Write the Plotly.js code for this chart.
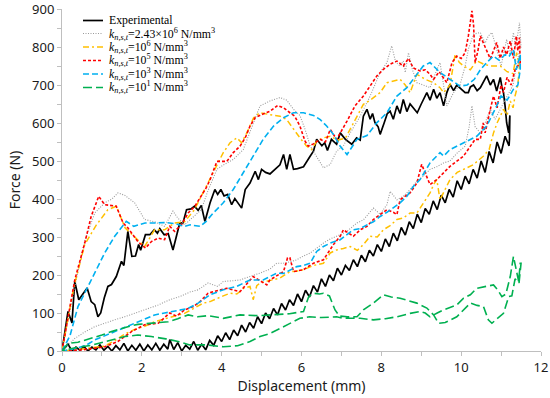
<!DOCTYPE html>
<html><head><meta charset="utf-8">
<script src="https://cdn.plot.ly/plotly-3.0.1.min.js"></script>
<style>html,body{margin:0;padding:0;background:#fff}#chart{width:550px;height:398px}</style>
</head><body><div id="chart"></div>
<script>
// ---------- Experimental ----------
const expUpX = [0,0.15,0.25,0.32,0.42,0.53,0.63,0.73,0.82,0.9,0.97,1.06,1.15,1.24,1.36,1.49,1.55,1.65,1.75,1.84,1.92,1.97,2.09,2.2,2.31,2.39,2.45,2.56,2.66,2.78,2.87,2.95,3.03,3.12,3.23,3.32,3.41,3.49,3.58,3.71,3.83,3.9,3.98,4.06,4.15,4.25,4.33,4.5,4.59,4.71,4.84,4.92,5.0,5.1,5.21,5.38,5.46,5.55,5.63,5.71,5.8,5.9,6.05,6.22,6.3,6.38,6.51,6.58,6.65,6.75,6.88,6.97,7.1,7.26,7.38,7.47,7.55,7.64,7.72,7.78,7.84,7.92,7.97,8.07,8.15,8.22,8.3,8.39,8.47,8.55,8.64,8.72,8.8,8.9,9.0,9.14,9.22,9.31,9.39,9.47,9.56,9.64,9.72,9.81,9.89,10.0,10.1,10.18,10.23,10.31,10.4,10.48,10.56,10.64,10.73,10.81,10.89,10.98,11.02,11.06,11.1,11.14,11.19,11.22,11.21];
const expUpY = [0,104,74,183,135,150,166,130,122,90,100,140,170,175,196,236,225,315,249,250,280,265,306,306,319,310,322,306,309,266,300,337,337,372,374,381,370,383,341,390,425,412,425,408,412,385,401,376,425,442,473,451,478,470,466,481,490,517,478,517,478,480,485,513,526,557,540,548,528,557,544,574,557,544,561,555,618,636,610,625,601,590,570,600,625,631,610,645,625,662,630,650,640,627,650,680,660,689,665,680,645,680,702,685,700,690,680,680,695,700,685,693,710,724,700,715,684,720,695,680,645,600,574,620,557];
const expDnX = [0,0.05,0.15,0.25,0.35,0.45,0.55,0.65,0.75,0.85,0.95,1.05,1.15,1.25,1.35,1.45,1.55,1.65,1.75,1.85,1.95,2.05,2.15,2.25,2.35,2.45,2.55,2.65,2.7,2.8,2.9,3.0,3.1,3.2,3.3,3.4,3.5,3.6,3.7,3.8,3.9,4.0,4.1,4.2,4.3,4.4,4.5,4.6,4.7,4.8,4.9,5.0,5.1,5.2,5.3,5.4,5.5,5.6,5.7,5.8,5.9,6.0,6.1,6.2,6.3,6.4,6.5,6.6,6.7,6.8,6.9,7.0,7.1,7.2,7.3,7.4,7.5,7.6,7.7,7.8,7.9,8.0,8.1,8.2,8.3,8.4,8.5,8.6,8.7,8.8,8.9,9.0,9.1,9.2,9.3,9.4,9.5,9.6,9.7,9.8,9.9,10.0,10.1,10.2,10.3,10.4,10.5,10.6,10.7,10.8,10.9,11.0,11.1,11.2];
const expDnY = [0,5,18,0,10,2,12,0,10,3,16,2,12,0,14,3,20,0,15,2,18,0,16,3,20,2,18,5,30,4,22,0,15,5,25,2,18,3,28,15,40,25,48,30,55,40,68,50,75,60,90,72,100,85,112,95,125,108,135,120,150,130,160,142,172,155,190,170,200,185,218,200,225,212,240,222,252,235,265,250,280,262,295,275,310,290,325,305,340,322,360,338,375,360,395,372,410,390,425,405,448,425,460,440,478,455,500,470,525,495,550,520,565,540];

// ---------- k = 2.43e6 (gray dotted) ----------
const k243UpX = [0,0.32,0.57,0.82,1.07,1.25,1.4,1.57,1.82,2.07,2.32,2.57,2.78,2.9,3.07,3.25,3.49,3.65,3.88,4.05,4.29,4.54,4.8,4.96,5.21,5.46,5.63,5.8,5.96,6.09,6.22,6.38,6.55,6.72,6.88,7.05,7.22,7.47,7.72,7.97,8.14,8.26,8.36,8.47,8.55,8.6,8.68,8.78,8.89,9.05,9.22,9.39,9.47,9.64,9.81,9.97,10.1,10.18,10.31,10.48,10.6,10.68,10.77,10.9,11.0,11.08,11.14,11.22,11.31,11.36,11.4,11.46,11.5];
const k243UpY = [0,170,290,363,390,400,416,410,390,346,340,328,368,350,332,350,372,420,478,490,504,530,601,645,658,667,660,636,620,583,539,513,482,491,526,540,574,618,671,733,759,803,760,750,763,733,785,740,706,700,693,740,759,645,680,700,750,794,834,838,810,829,838,790,750,790,820,780,838,800,820,864,800];
const k243DnX = [0,0.1,0.32,0.57,0.82,1.07,1.32,1.57,1.82,2.07,2.41,2.7,2.95,3.2,3.41,3.66,3.9,4.04,4.29,4.46,4.7,4.96,5.2,5.38,5.55,5.72,5.88,6.05,6.22,6.38,6.55,6.72,6.97,7.14,7.39,7.55,7.8,7.97,8.14,8.22,8.39,8.55,8.72,8.89,9.05,9.22,9.39,9.56,9.72,9.89,10.1,10.2,10.27,10.35,10.48,10.6,10.73,10.85,10.98,11.1,11.19,11.3,11.4,11.48];
const k243DnY = [0,9,33,50,64,73,82,90,99,108,121,135,143,155,161,179,170,183,185,187,195,205,215,231,231,235,240,250,258,270,284,295,306,315,337,345,376,360,385,420,398,407,425,447,460,478,485,495,500,520,539,590,645,590,574,600,636,610,636,660,680,700,760,800];

// ---------- k = 1e6 (yellow dash-dot) ----------
const k6UpX = [0,0.3,0.57,0.85,1.15,1.36,1.58,1.81,2.07,2.32,2.57,2.82,3.07,3.32,3.55,3.71,3.88,4.04,4.21,4.38,4.5,4.63,4.8,4.96,5.21,5.46,5.63,5.8,5.96,6.13,6.25,6.38,6.55,6.72,6.9,7.1,7.3,7.55,7.72,7.97,8.14,8.3,8.47,8.6,8.72,8.89,9.1,9.31,9.47,9.56,9.72,9.85,9.95,10.06,10.23,10.39,10.56,10.73,10.98,11.15,11.3,11.39,11.46];
const k6UpY = [0,170,280,330,372,381,324,302,275,319,319,337,340,372,420,451,486,522,548,561,548,574,614,627,622,618,609,583,561,539,530,552,561,565,555,560,600,649,660,680,706,710,715,700,680,728,715,706,693,680,700,781,760,750,740,764,755,750,750,735,730,785,750];
const k6DnX = [0,0.5,1.07,1.33,1.58,1.82,2.07,2.32,2.57,2.83,3.07,3.21,3.38,3.54,3.71,3.88,4.04,4.21,4.38,4.55,4.71,4.79,4.88,4.96,5.2,5.46,5.71,5.88,6.05,6.3,6.55,6.72,6.88,7.05,7.22,7.4,7.55,7.72,7.9,8.05,8.22,8.39,8.55,8.72,8.89,9.05,9.22,9.32,9.39,9.47,9.72,9.9,10.06,10.3,10.56,10.7,10.81,10.9,11.06,11.15,11.23,11.3,11.35,11.42,11.46];
const k6DnY = [0,5,13,28,45,57,65,77,84,92,99,108,117,126,130,137,145,152,150,165,170,135,172,179,185,192,209,210,214,225,231,258,266,270,275,265,280,302,300,319,330,346,350,363,363,390,416,440,451,398,451,470,478,490,513,530,574,600,636,620,658,640,671,700,750];

// ---------- k = 1e5 (red short dash) ----------
const k5UpX = [0,0.32,0.57,0.73,0.92,1.07,1.36,1.53,1.65,1.9,2.09,2.24,2.41,2.57,2.7,2.82,2.99,3.16,3.33,3.49,3.61,3.71,3.88,4.13,4.29,4.46,4.59,4.71,4.84,5.0,5.21,5.4,5.55,5.71,5.83,5.96,6.09,6.17,6.3,6.47,6.6,6.72,6.88,7.14,7.34,7.55,7.72,7.89,8.05,8.22,8.39,8.55,8.68,8.8,8.97,9.1,9.22,9.31,9.45,9.64,9.77,9.89,10.0,10.1,10.18,10.27,10.31,10.35,10.42,10.48,10.6,10.73,10.81,10.89,10.98,11.06,11.14,11.23,11.31,11.38,11.42,11.46,11.48];
const k5UpY = [0,187,284,354,407,385,381,337,324,288,271,288,297,293,328,315,332,363,381,407,429,451,499,499,522,539,561,592,614,622,631,646,640,627,618,592,552,539,545,557,550,583,557,605,645,671,697,724,741,755,763,750,770,745,737,740,728,715,735,706,759,776,770,785,829,895,860,759,790,829,800,769,790,812,770,800,780,816,770,829,790,825,759];
const k5DnX = [0,0.5,1.07,1.4,1.74,2.07,2.41,2.7,2.87,3.07,3.29,3.46,3.66,3.79,4.13,4.46,4.79,5.13,5.21,5.4,5.55,5.65,5.71,5.8,6.05,6.3,6.55,6.8,6.97,7.05,7.3,7.47,7.64,7.8,7.97,8.14,8.3,8.39,8.47,8.72,8.89,9.01,9.22,9.39,9.72,10.06,10.23,10.35,10.48,10.55,10.6,10.7,10.73,10.81,10.9,11.0,11.06,11.15,11.25,11.35,11.48];
const k5DnY = [0,3,11,25,51,69,73,100,92,108,117,130,152,156,165,156,196,174,187,200,209,245,245,209,214,231,240,280,302,319,302,319,328,346,359,372,365,359,398,416,442,491,438,451,486,513,539,557,557,600,574,620,636,671,640,700,680,720,700,740,759];

// ---------- k = 1e3 (blue dash) ----------
const k3UpX = [0,0.2,0.4,0.73,1.07,1.32,1.61,1.8,2.08,2.32,2.6,2.85,3.07,3.21,3.46,3.6,3.79,4.04,4.29,4.54,4.8,5.04,5.3,5.55,5.8,6.05,6.3,6.47,6.63,6.8,6.97,7.14,7.39,7.64,7.89,8.14,8.39,8.64,8.89,9.05,9.22,9.47,9.72,9.97,10.15,10.33,10.48,10.64,10.81,10.95,11.1,11.2,11.31,11.38,11.48];
const k3UpY = [0,40,117,187,258,302,341,328,337,337,338,335,328,332,328,340,363,390,425,469,513,557,592,614,627,627,620,609,592,570,539,517,557,567,601,627,671,693,728,750,759,733,715,697,700,715,740,759,776,765,780,775,794,740,780];
const k3DnX = [0,0.35,0.6,0.82,1.07,1.32,1.57,1.82,2.07,2.32,2.57,2.82,3.16,3.41,3.54,3.71,4.04,4.38,4.71,5.04,5.38,5.55,5.88,6.05,6.22,6.38,6.55,6.72,6.97,7.14,7.3,7.47,7.64,7.8,7.97,8.14,8.3,8.47,8.64,8.8,8.97,9.22,9.47,9.56,9.72,9.89,10.06,10.23,10.39,10.64,10.89,11.0,11.15,11.31,11.42,11.48];
const k3DnY = [0,7,15,29,40,51,62,73,84,95,100,104,112,126,135,148,161,170,187,187,205,204,222,225,231,262,275,284,293,306,319,322,332,340,354,365,376,390,407,433,451,495,522,513,530,539,548,557,565,592,645,671,660,689,700,740];

// ---------- k = 1e1 (green long dash) ----------
const k1UpX = [0,0.15,0.4,0.73,1.0,1.24,1.45,1.65,1.9,2.16,2.4,2.66,2.9,3.16,3.4,3.66,4.04,4.46,4.9,5.3,5.7,6.05,6.18,6.3,6.45,6.55,6.7,6.84,6.95,7.15,7.39,7.55,7.8,8.05,8.25,8.47,8.68,8.89,9.14,9.31,9.43,9.6,9.89,10.06,10.23,10.4,10.56,10.68,10.77,10.9,11.06,11.19,11.27,11.35,11.45,11.5];
const k1UpY = [0,20,23,33,42,51,58,64,70,73,75,77,85,95,90,93,86,95,93,95,98,104,143,152,150,152,145,108,92,90,90,108,126,148,142,139,132,126,113,95,73,75,90,108,126,120,117,82,73,85,99,143,145,190,179,231];
const k1DnX = [0,0.3,0.73,1.2,1.57,1.9,2.24,2.6,2.91,3.2,3.63,4.04,4.4,4.71,4.96,5.21,5.46,5.7,5.96,6.2,6.5,6.88,7.05,7.47,7.8,8.1,8.39,8.72,8.97,9.1,9.22,9.4,9.56,9.72,9.89,10.06,10.23,10.39,10.56,10.7,10.81,10.92,11.02,11.12,11.23,11.31,11.38,11.44,11.48];
const k1DnY = [0,8,15,28,38,42,38,32,25,16,16,11,14,25,38,46,60,72,86,90,88,90,86,86,82,85,90,99,104,100,90,100,108,115,121,139,148,165,170,172,174,160,143,150,196,249,215,183,231];

const seriesNames = [
  'Experimental',
  '<i>k</i><sub><i>n,s,t</i></sub>=2.43×10<sup>6</sup> N/mm<sup>3</sup>',
  '<i>k</i><sub><i>n,s,t</i></sub>=10<sup>6</sup> N/mm<sup>3</sup>',
  '<i>k</i><sub><i>n,s,t</i></sub>=10<sup>5</sup> N/mm<sup>3</sup>',
  '<i>k</i><sub><i>n,s,t</i></sub>=10<sup>3</sup> N/mm<sup>3</sup>',
  '<i>k</i><sub><i>n,s,t</i></sub>=10<sup>1</sup> N/mm<sup>3</sup>'
];
const xTickVals = [0,2,4,6,8,10,12];
const yTickVals = [0,100,200,300,400,500,600,700,800,900];

const styles = [
  {color:'#000000', width:1.7, dash:'solid'},
  {color:'#9a9a9a', width:1.1, dash:'1px,1.5px'},
  {color:'#FFC000', width:1.5, dash:'6px,3px,2px,3px'},
  {color:'#FF0000', width:1.6, dash:'3px,2px'},
  {color:'#00B0F0', width:1.6, dash:'6px,3px'},
  {color:'#00B050', width:1.6, dash:'9px,4px'}
];
function loop(ux, uy, dx, dy) {
  return { x: ux.concat(dx.slice().reverse()), y: uy.concat(dy.slice().reverse()) };
}
const data = [
  [expUpX, expUpY, expDnX, expDnY],
  [k243UpX, k243UpY, k243DnX, k243DnY],
  [k6UpX, k6UpY, k6DnX, k6DnY],
  [k5UpX, k5UpY, k5DnX, k5DnY],
  [k3UpX, k3UpY, k3DnX, k3DnY],
  [k1UpX, k1UpY, k1DnX, k1DnY]
].map((s, i) => {
  const l = loop(s[0], s[1], s[2], s[3]);
  return { type:'scatter', mode:'lines', x:l.x, y:l.y, name:seriesNames[i], line:styles[i], showlegend:false };
});

// Compact legend (drawn in paper coordinates)
const W = 550, H = 398, mL = 62, mR = 9, mT = 9, mB = 47;
const pw = W - mL - mR, ph = H - mT - mB;
const px2x = p => (p - mL) / pw;
const py2y = p => (H - mB - p) / ph;
const rowY = [20.5, 33.5, 47, 60.5, 74, 87.5];
const shapes = [], annotations = [];
seriesNames.forEach((nm, i) => {
  shapes.push({type:'line', xref:'paper', yref:'paper', x0:px2x(83), x1:px2x(103), y0:py2y(rowY[i]), y1:py2y(rowY[i]),
    line:styles[i]});
  annotations.push({xref:'paper', yref:'paper', x:px2x(107), y:py2y(rowY[i]), xanchor:'left', yanchor:'middle',
    text:nm, showarrow:false, font:{family:'Liberation Serif, DejaVu Serif, serif', size:11.8, color:'#000'}});
});

const axisFont = {family:'Noto Sans, Open Sans, sans-serif', size:13, color:'#1a1a1a'};
const layout = {
  width:W, height:H,
  margin:{l:mL, r:mR, t:mT, b:mB},
  paper_bgcolor:'#fff', plot_bgcolor:'#fff',
  showlegend:false,
  shapes:shapes, annotations:annotations,
  xaxis:{range:[0,12], tickvals:xTickVals, ticktext:xTickVals.map(String),
    showgrid:false, zeroline:false, showline:true, linecolor:'#bfbfbf', linewidth:1,
    ticks:'outside', ticklen:4, tickcolor:'#bfbfbf', ticklabeloverflow:'allow',
    minor:{dtick:1, ticks:'outside', ticklen:4, tickcolor:'#bfbfbf', showgrid:false},
    tickfont:axisFont,
    title:{text:'Displacement (mm)', font:{family:'Noto Sans, Open Sans, sans-serif', size:14, color:'#1a1a1a'}, standoff:4}},
  yaxis:{range:[0,900], tickvals:yTickVals, ticktext:yTickVals.map(String),
    showgrid:false, zeroline:false, showline:true, linecolor:'#bfbfbf', linewidth:1,
    ticks:'outside', ticklen:4, tickcolor:'#bfbfbf', ticklabeloverflow:'allow',
    minor:{dtick:50, ticks:'outside', ticklen:4, tickcolor:'#bfbfbf', showgrid:false},
    tickfont:axisFont,
    title:{text:'Force (N)', font:{family:'Noto Sans, Open Sans, sans-serif', size:14, color:'#1a1a1a'}, standoff:8}}
};
Plotly.newPlot('chart', data, layout, {displayModeBar:false, staticPlot:true});
</script></body></html>
